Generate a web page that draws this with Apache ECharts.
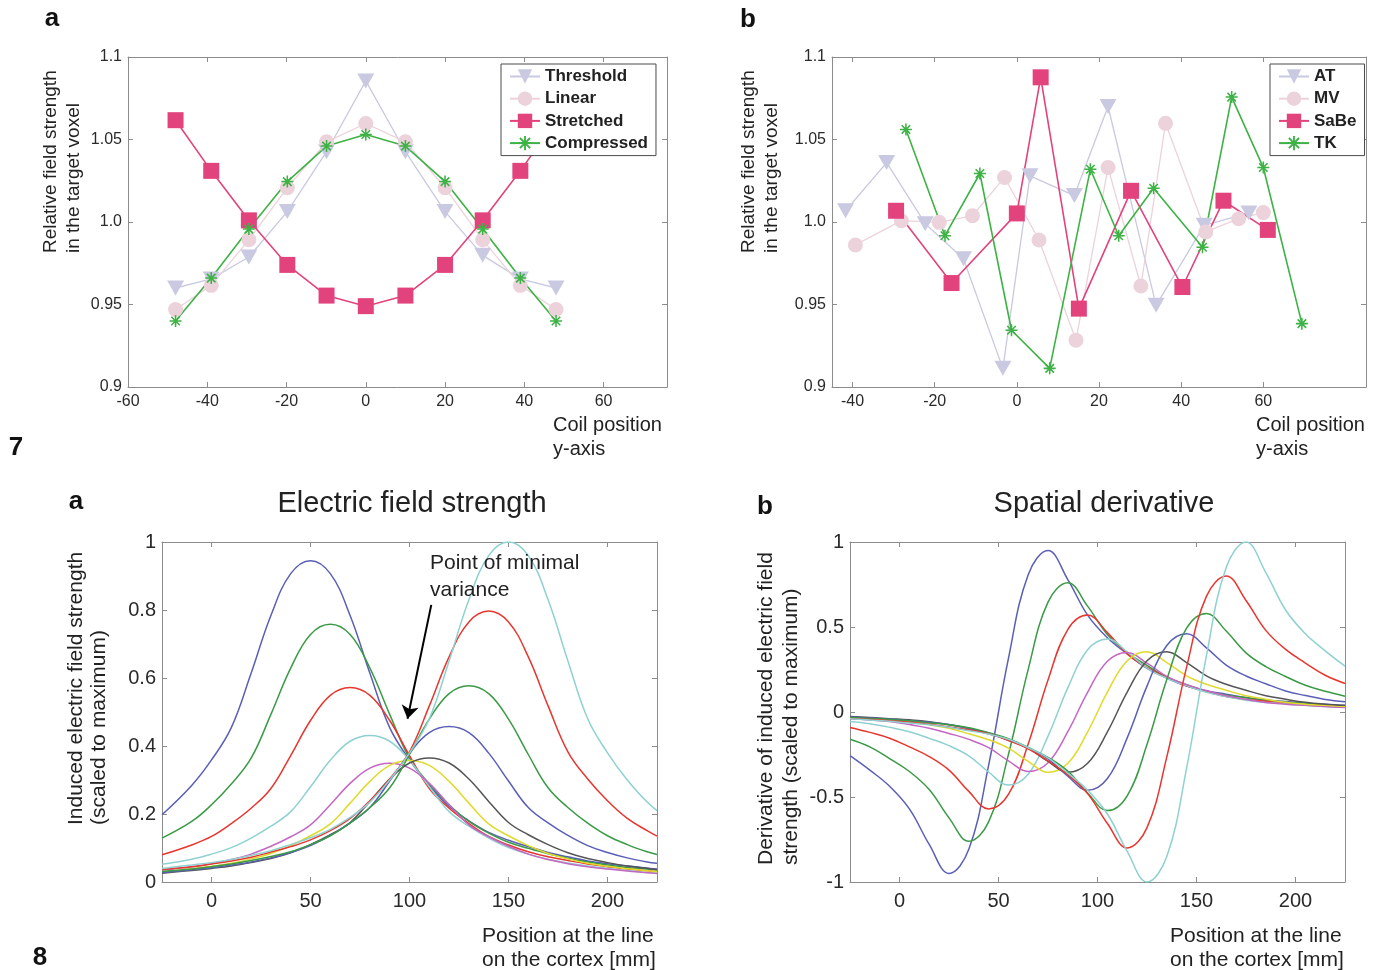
<!DOCTYPE html>
<html><head><meta charset="utf-8">
<script src="https://cdn.jsdelivr.net/npm/echarts@6/dist/echarts.min.js"></script>
<style>html,body{margin:0;padding:0;background:#fff}#c{width:1374px;height:970px}</style>
</head><body><div id="c"></div>
<script>
// ---------- Panel 7a ----------
const tlX = [-48, -39, -29.5, -19.8, -9.9, 0, 10, 20, 29.5, 39, 48];
const threshold = [0.960, 0.9655, 0.9788, 1.0063, 1.0426, 1.0855, 1.0426, 1.0063, 0.9798, 0.9655, 0.960];
const linear = [0.947, 0.9616, 0.9892, 1.0208, 1.0486, 1.0597, 1.0486, 1.0208, 0.9892, 0.9616, 0.947];
const stretched = [1.0617, 1.031, 1.001, 0.974, 0.9554, 0.949, 0.9554, 0.974, 1.001, 1.031, 1.0617];
const compressed = [0.940, 0.966, 0.9957, 1.0245, 1.046, 1.053, 1.046, 1.0245, 0.9957, 0.966, 0.940];
const tlXTicks = [-60, -40, -20, 0, 20, 40, 60];
const topYTicks = [0.9, 0.95, 1.0, 1.05, 1.1];

// ---------- Panel 7b ----------
const atX = [-41.7, -31.7, -22.3, -13, -3.4, 3.2, 14, 22.2, 33.9, 45.6, 56.5];
const atY = [1.0068, 1.036, 0.999, 0.9777, 0.9113, 1.028, 1.016, 1.070, 0.9495, 0.998, 1.0055];
const mvX = [-39.3, -28.1, -18.9, -10.8, -3, 5.4, 14.4, 22.2, 30.2, 36.2, 46, 54, 60];
const mvY = [0.9861, 1.0008, 0.9998, 1.0038, 1.027, 0.9891, 0.9284, 1.033, 0.9612, 1.0598, 0.994, 1.002, 1.0057];
const sabeX = [-29.4, -15.9, 0, 5.8, 15.1, 27.8, 40.3, 50.3, 61.1];
const sabeY = [1.0068, 0.963, 1.0052, 1.0877, 0.9475, 1.0189, 0.9606, 1.0129, 0.9952];
const tkX = [-27, -17.5, -9, -1.3, 8, 17.9, 24.8, 33.3, 45.2, 52.3, 60, 69.4];
const tkY = [1.0561, 0.9917, 1.0294, 0.9344, 0.9113, 1.032, 0.9917, 1.0205, 0.9847, 1.0757, 1.033, 0.9384];
const trXTicks = [-40, -20, 0, 20, 40, 60];

// ---------- Panel 8a : Electric field strength ----------
const fieldX = [-25,-10,0,10,20,30,40,50,60,70,80,90,100,110,120,130,140,150,160,170,180,190,200,210,220,225];
const f1 = [0.198,0.284,0.359,0.454,0.614,0.784,0.907,0.945,0.907,0.784,0.614,0.454,0.359,0.284,0.222,0.180,0.146,0.123,0.104,0.087,0.074,0.062,0.054,0.047,0.041,0.038];
const f2 = [0.129,0.178,0.227,0.288,0.364,0.493,0.629,0.728,0.758,0.728,0.629,0.493,0.364,0.288,0.227,0.178,0.144,0.117,0.099,0.083,0.070,0.059,0.050,0.043,0.038,0.035];
const f3 = [0.080,0.109,0.134,0.172,0.217,0.275,0.372,0.475,0.549,0.572,0.549,0.475,0.372,0.275,0.217,0.172,0.134,0.109,0.089,0.074,0.063,0.053,0.045,0.038,0.033,0.030];
const f4 = [0.052,0.067,0.082,0.101,0.129,0.164,0.207,0.280,0.358,0.414,0.431,0.414,0.358,0.280,0.207,0.164,0.129,0.101,0.082,0.067,0.056,0.047,0.040,0.034,0.028,0.026];
const f5 = [0.035,0.045,0.054,0.066,0.082,0.105,0.133,0.168,0.227,0.290,0.335,0.349,0.335,0.290,0.227,0.168,0.133,0.105,0.082,0.066,0.054,0.045,0.038,0.032,0.027,0.025];
const f6 = [0.030,0.039,0.046,0.055,0.068,0.084,0.107,0.136,0.171,0.232,0.296,0.343,0.357,0.343,0.296,0.232,0.171,0.136,0.107,0.084,0.068,0.055,0.046,0.039,0.033,0.030];
const f7 = [0.026,0.034,0.040,0.047,0.057,0.069,0.086,0.110,0.139,0.175,0.237,0.303,0.350,0.365,0.350,0.303,0.237,0.175,0.139,0.110,0.086,0.069,0.057,0.047,0.040,0.037];
const f8 = [0.028,0.036,0.042,0.050,0.059,0.071,0.087,0.107,0.137,0.174,0.219,0.297,0.379,0.439,0.457,0.439,0.379,0.297,0.219,0.174,0.137,0.107,0.087,0.071,0.059,0.055];
const f9 = [0.031,0.038,0.045,0.053,0.063,0.075,0.089,0.110,0.136,0.173,0.219,0.277,0.375,0.479,0.554,0.577,0.554,0.479,0.375,0.277,0.219,0.173,0.136,0.110,0.089,0.081];
const f10 = [0.037,0.045,0.053,0.062,0.073,0.088,0.104,0.124,0.151,0.187,0.239,0.303,0.383,0.518,0.662,0.765,0.797,0.765,0.662,0.518,0.383,0.303,0.239,0.187,0.151,0.135];
const f11 = [0.040,0.050,0.057,0.066,0.078,0.092,0.110,0.130,0.155,0.190,0.235,0.300,0.380,0.480,0.650,0.830,0.960,1.000,0.960,0.830,0.650,0.480,0.380,0.300,0.235,0.210];

// ---------- Panel 8b : Spatial derivative ----------
const derivX = [-25,-15,-5,5,15,25,35,45,55,65,75,85,95,105,115,125,135,145,155,165,175,185,195,205,215,225];
const d1 = [-0.257,-0.342,-0.437,-0.570,-0.779,-0.950,-0.808,-0.314,0.314,0.808,0.950,0.779,0.570,0.437,0.342,0.257,0.200,0.152,0.124,0.105,0.086,0.071,0.062,0.052,0.045,0.038];
const d2 = [-0.160,-0.205,-0.274,-0.350,-0.456,-0.623,-0.760,-0.646,-0.251,0.251,0.646,0.760,0.623,0.456,0.350,0.274,0.205,0.160,0.122,0.099,0.084,0.068,0.057,0.049,0.042,0.036];
const d3 = [-0.091,-0.120,-0.154,-0.205,-0.262,-0.342,-0.467,-0.570,-0.485,-0.188,0.188,0.485,0.570,0.467,0.342,0.262,0.205,0.154,0.120,0.091,0.074,0.063,0.051,0.043,0.037,0.031];
const d4 = [-0.056,-0.069,-0.090,-0.116,-0.155,-0.198,-0.258,-0.353,-0.430,-0.366,-0.142,0.142,0.366,0.430,0.353,0.258,0.198,0.155,0.116,0.090,0.069,0.056,0.047,0.039,0.032,0.028];
const d5 = [-0.039,-0.046,-0.056,-0.074,-0.095,-0.126,-0.161,-0.210,-0.287,-0.350,-0.298,-0.116,0.116,0.298,0.350,0.287,0.210,0.161,0.126,0.095,0.074,0.056,0.046,0.039,0.032,0.026];
const d6 = [-0.032,-0.039,-0.046,-0.057,-0.075,-0.096,-0.128,-0.163,-0.213,-0.291,-0.355,-0.302,-0.117,0.117,0.302,0.355,0.291,0.213,0.163,0.128,0.096,0.075,0.057,0.046,0.039,0.032];
const d7 = [-0.027,-0.032,-0.039,-0.046,-0.057,-0.075,-0.096,-0.128,-0.163,-0.213,-0.291,-0.355,-0.302,-0.117,0.117,0.302,0.355,0.291,0.213,0.163,0.128,0.096,0.075,0.057,0.046,0.039];
const d8 = [-0.030,-0.035,-0.041,-0.051,-0.060,-0.074,-0.097,-0.124,-0.166,-0.212,-0.276,-0.377,-0.460,-0.391,-0.152,0.152,0.391,0.460,0.377,0.276,0.212,0.166,0.124,0.097,0.074,0.060];
const d9 = [-0.032,-0.038,-0.044,-0.052,-0.064,-0.075,-0.093,-0.122,-0.157,-0.209,-0.267,-0.348,-0.476,-0.580,-0.493,-0.191,0.191,0.493,0.580,0.476,0.348,0.267,0.209,0.157,0.122,0.093];
const d10 = [-0.038,-0.044,-0.052,-0.060,-0.072,-0.088,-0.104,-0.128,-0.168,-0.216,-0.288,-0.368,-0.480,-0.656,-0.800,-0.680,-0.264,0.264,0.680,0.800,0.656,0.480,0.368,0.288,0.216,0.168];
const d11 = [-0.040,-0.047,-0.055,-0.065,-0.075,-0.090,-0.110,-0.130,-0.160,-0.210,-0.270,-0.360,-0.460,-0.600,-0.820,-1.000,-0.850,-0.330,0.330,0.850,1.000,0.820,0.600,0.460,0.360,0.270];
const bottomXTicks = [0, 50, 100, 150, 200];
const fieldYTicks = [0, 0.2, 0.4, 0.6, 0.8, 1];
const derivYTicks = [-1, -0.5, 0, 0.5, 1];

const curveColors = ['#5a5fb6','#3a9a46','#e8362f','#8fd1d1','#c466c4','#e0da2a','#555555','#5a5fb6','#3a9a46','#e8362f','#8fd1d1'];
const fieldCurves = [f1,f2,f3,f4,f5,f6,f7,f8,f9,f10,f11];
const derivCurves = [d1,d2,d3,d4,d5,d6,d7,d8,d9,d10,d11];

const FONT = '"Liberation Sans", Arial, sans-serif';
const FRAME = '#8c8c8c';
const STAR = 'path://M-0.9,-7 L0.9,-7 L0.9,7 L-0.9,7 Z M-7,-0.9 L7,-0.9 L7,0.9 L-7,0.9 Z M-5.6,-4.3 L-4.3,-5.6 L5.6,4.3 L4.3,5.6 Z M4.3,-5.6 L5.6,-4.3 L-4.3,5.6 L-5.6,4.3 Z';

const xAxes = [], yAxes = [];
function addAxes(g, xmin, xmax, xt, ymin, ymax, yt, fs, yfmt, xmargin, ymargin) {
  const line = {show: true, onZero: false, lineStyle: {color: FRAME, width: 1}};
  const tick = (vals) => ({show: true, inside: true, length: 5, customValues: vals, lineStyle: {color: FRAME, width: 1}});
  const lab = (vals, m, fmt) => ({show: true, customValues: vals, fontSize: fs, fontFamily: FONT, color: '#2a2a2a', margin: m, formatter: fmt, showMinLabel: true, showMaxLabel: true});
  xAxes.push({type: 'value', gridIndex: g, position: 'bottom', min: xmin, max: xmax, axisLine: line, axisTick: tick(xt), axisLabel: lab(xt, xmargin, v => String(v)), splitLine: {show: false}});
  xAxes.push({type: 'value', gridIndex: g, position: 'top', min: xmin, max: xmax, axisLine: line, axisTick: tick(xt), axisLabel: {show: false}, splitLine: {show: false}});
  yAxes.push({type: 'value', gridIndex: g, position: 'left', min: ymin, max: ymax, axisLine: line, axisTick: tick(yt), axisLabel: lab(yt, ymargin, yfmt), splitLine: {show: false}});
  yAxes.push({type: 'value', gridIndex: g, position: 'right', min: ymin, max: ymax, axisLine: line, axisTick: tick(yt), axisLabel: {show: false}, splitLine: {show: false}});
}
const topFmt = v => (Math.abs(v - 1) < 1e-9 ? '1.0' : String(+v.toFixed(2)));
addAxes(0, -60, 76, tlXTicks, 0.9, 1.1, topYTicks, 16, topFmt, 7, 6);
addAxes(1, -45, 85, trXTicks, 0.9, 1.1, topYTicks, 16, topFmt, 7, 6);
addAxes(2, -25, 225, bottomXTicks, 0, 1, fieldYTicks, 20, v => String(+v.toFixed(1)), 9, 6);
addAxes(3, -25, 225, bottomXTicks, -1, 1, derivYTicks, 20, v => String(+v.toFixed(1)), 9, 6);

const zip = (xs, ys) => xs.map((x, i) => [x, ys[i]]);
const series = [];
function markerSeries(name, g, xs, ys, color, symbol, size, lw, rot) {
  series.push({
    name, type: 'line', xAxisIndex: 2*g, yAxisIndex: 2*g, data: zip(xs, ys),
    symbol, symbolSize: size, symbolRotate: rot || 0, showSymbol: true,
    lineStyle: {color, width: lw}, itemStyle: {color, borderWidth: 0}, z: 3
  });
}
markerSeries('Threshold', 0, tlX, threshold, '#c9c9e1', 'triangle', [17, 15], 1.3, 180);
markerSeries('Linear', 0, tlX, linear, '#ecd2db', 'circle', 15, 1.3);
markerSeries('Stretched', 0, tlX, stretched, '#e3437c', 'rect', 16, 1.6);
markerSeries('Compressed', 0, tlX, compressed, '#3db245', STAR, 12, 1.6);
markerSeries('AT', 1, atX, atY, '#c9c9e1', 'triangle', [17, 15], 1.3, 180);
markerSeries('MV', 1, mvX, mvY, '#ecd2db', 'circle', 15, 1.3);
markerSeries('SaBe', 1, sabeX, sabeY, '#e3437c', 'rect', 16, 1.6);
markerSeries('TK', 1, tkX, tkY, '#3db245', STAR, 12, 1.6);

fieldCurves.forEach((c, i) => {
  const s = {name: 'field' + (i+1), type: 'line', xAxisIndex: 4, yAxisIndex: 4, data: zip(fieldX, c),
    showSymbol: false, smooth: 0.4, lineStyle: {color: curveColors[i], width: 1.5}, itemStyle: {color: curveColors[i]}};
  if (i === 0) {
    s.markLine = {silent: true, symbol: ['none', 'arrow'], symbolSize: 13, label: {show: false},
      lineStyle: {color: '#000', width: 2, type: 'solid'},
      data: [[{coord: [111, 0.815]}, {coord: [99, 0.48]}]]};
  }
  series.push(s);
});
derivCurves.forEach((c, i) => {
  series.push({name: 'deriv' + (i+1), type: 'line', xAxisIndex: 6, yAxisIndex: 6, data: zip(derivX, c),
    showSymbol: false, smooth: 0.4, lineStyle: {color: curveColors[i], width: 1.5}, itemStyle: {color: curveColors[i]}});
});

function legendFor(names, left, top) {
  return {data: names, orient: 'vertical', left, top, itemWidth: 30, itemHeight: 18, itemGap: 5.2,
    padding: [4, 8, 4, 8], backgroundColor: '#fff', borderColor: '#4a4a4a', borderWidth: 1, borderRadius: 0,
    selectedMode: false, textStyle: {fontFamily: FONT, fontWeight: 'bold', fontSize: 17, color: '#222', padding: [0, 0, 0, 0]}};
}

function txt(text, x, y, size, opts) {
  opts = opts || {};
  return {type: 'text', x, y, rotation: opts.rot || 0, z: 10,
    style: {text, font: (opts.bold ? 'bold ' : '') + size + 'px ' + FONT, fill: opts.color || '#222',
      textAlign: opts.align || 'left', textVerticalAlign: 'middle'}};
}
const R = Math.PI / 2;
const graphics = [
  txt('a', 52, 19, 26, {bold: true, align: 'center', color: '#111'}),
  txt('b', 748, 20, 26, {bold: true, align: 'center', color: '#111'}),
  txt('7', 16, 448, 26, {bold: true, align: 'center', color: '#111'}),
  txt('a', 76, 502, 26, {bold: true, align: 'center', color: '#111'}),
  txt('b', 765, 507, 26, {bold: true, align: 'center', color: '#111'}),
  txt('8', 40, 958, 26, {bold: true, align: 'center', color: '#111'}),
  txt('Relative field strength', 51, 253, 19, {rot: R}),
  txt('in the target voxel', 74, 253, 19, {rot: R}),
  txt('Relative field strength', 749, 253, 19, {rot: R}),
  txt('in the target voxel', 772, 253, 19, {rot: R}),
  txt('Induced electric field strength', 76, 825, 21, {rot: R}),
  txt('(scaled to maximum)', 99, 825, 21, {rot: R}),
  txt('Derivative of induced electric field', 766, 865, 21, {rot: R}),
  txt('strength (scaled to maximum)', 791, 865, 21, {rot: R}),
  txt('Coil position', 553, 425, 20),
  txt('y-axis', 553, 449, 20),
  txt('Coil position', 1256, 425, 20),
  txt('y-axis', 1256, 449, 20),
  txt('Position at the line', 482, 936, 21),
  txt('on the cortex [mm]', 482, 960, 21),
  txt('Position at the line', 1170, 936, 21),
  txt('on the cortex [mm]', 1170, 960, 21),
  txt('Electric field strength', 412, 504, 29, {align: 'center'}),
  txt('Spatial derivative', 1104, 504, 29, {align: 'center'}),
  txt('Point of minimal', 430, 563, 21),
  txt('variance', 430, 590, 21)
];

const option = {
  animation: false,
  backgroundColor: '#fff',
  grid: [
    {left: 128, top: 57, width: 539, height: 330},
    {left: 832, top: 57, width: 534, height: 330},
    {left: 162, top: 542, width: 495, height: 340},
    {left: 850, top: 542, width: 495, height: 340}
  ],
  xAxis: xAxes,
  yAxis: yAxes,
  legend: [legendFor(['Threshold','Linear','Stretched','Compressed'], 501, 64), legendFor(['AT','MV','SaBe','TK'], 1270, 64)],
  series,
  graphic: {elements: graphics}
};
const chart = echarts.init(document.getElementById('c'));
chart.setOption(option);
</script>
</body></html>
